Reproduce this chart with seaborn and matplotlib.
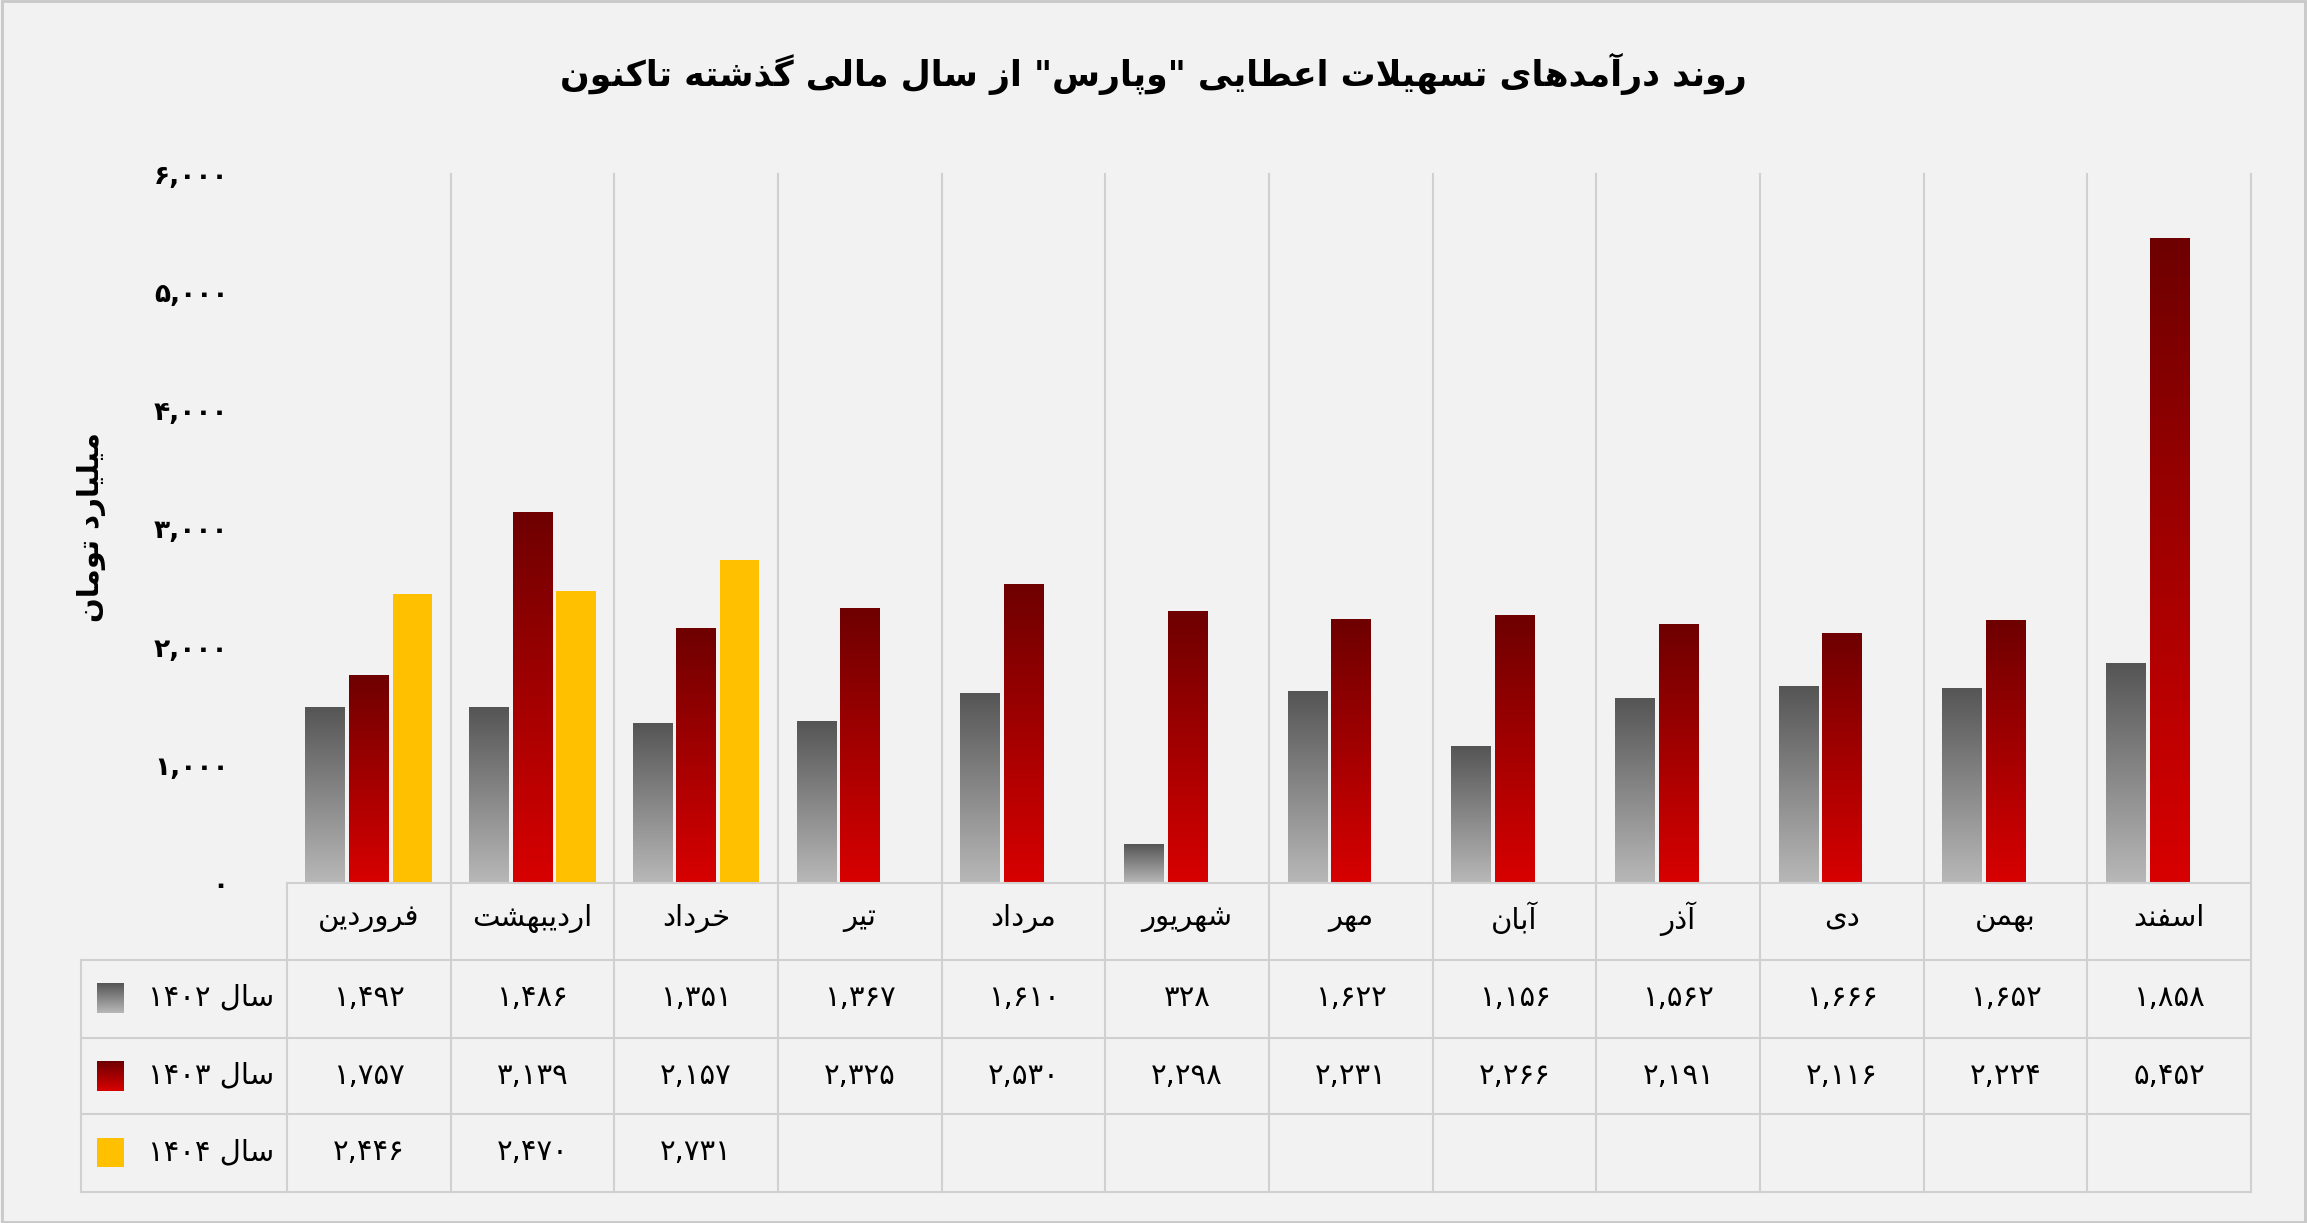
import numpy as np, pandas as pd, matplotlib
matplotlib.use("Agg")
import matplotlib.pyplot as plt
import seaborn as sns
from matplotlib.colors import LinearSegmentedColormap

months = ["فروردین","اردیبهشت","خرداد","تیر","مرداد","شهریور","مهر","آبان","آذر","دی","بهمن","اسفند"]
v1402 = [1492,1486,1351,1367,1610,328,1622,1156,1562,1666,1652,1858]
v1403 = [1757,3139,2157,2325,2530,2298,2231,2266,2191,2116,2224,5452]
v1404 = [2446,2470,2731]+[np.nan]*9
series = ["سال ۱۴۰۲","سال ۱۴۰۳","سال ۱۴۰۴"]
yticks = [0,1000,2000,3000,4000,5000,6000]

# ---- minimal Persian shaping ----
F = {'ا':(0xFE8D,0xFE8E,None,None),'آ':(0xFE81,0xFE82,None,None),'ب':(0xFE8F,0xFE90,0xFE91,0xFE92),
'ت':(0xFE95,0xFE96,0xFE97,0xFE98),'ث':(0xFE99,0xFE9A,0xFE9B,0xFE9C),'ج':(0xFE9D,0xFE9E,0xFE9F,0xFEA0),
'ح':(0xFEA1,0xFEA2,0xFEA3,0xFEA4),'خ':(0xFEA5,0xFEA6,0xFEA7,0xFEA8),'د':(0xFEA9,0xFEAA,None,None),
'ذ':(0xFEAB,0xFEAC,None,None),'ر':(0xFEAD,0xFEAE,None,None),'ز':(0xFEAF,0xFEB0,None,None),
'ژ':(0xFB8A,0xFB8B,None,None),'س':(0xFEB1,0xFEB2,0xFEB3,0xFEB4),'ش':(0xFEB5,0xFEB6,0xFEB7,0xFEB8),
'ص':(0xFEB9,0xFEBA,0xFEBB,0xFEBC),'ض':(0xFEBD,0xFEBE,0xFEBF,0xFEC0),'ط':(0xFEC1,0xFEC2,0xFEC3,0xFEC4),
'ظ':(0xFEC5,0xFEC6,0xFEC7,0xFEC8),'ع':(0xFEC9,0xFECA,0xFECB,0xFECC),'غ':(0xFECD,0xFECE,0xFECF,0xFED0),
'ف':(0xFED1,0xFED2,0xFED3,0xFED4),'ق':(0xFED5,0xFED6,0xFED7,0xFED8),'ل':(0xFEDD,0xFEDE,0xFEDF,0xFEE0),
'م':(0xFEE1,0xFEE2,0xFEE3,0xFEE4),'ن':(0xFEE5,0xFEE6,0xFEE7,0xFEE8),'ه':(0xFEE9,0xFEEA,0xFEEB,0xFEEC),
'و':(0xFEED,0xFEEE,None,None),'پ':(0xFB56,0xFB57,0xFB58,0xFB59),'چ':(0xFB7A,0xFB7B,0xFB7C,0xFB7D),
'ک':(0xFB8E,0xFB8F,0xFB90,0xFB91),'گ':(0xFB92,0xFB93,0xFB94,0xFB95),'ی':(0xFBFC,0xFBFD,0xFBFE,0xFBFF)}
def shape(s):
    s = s.replace('لا','\uFEFB').replace('لآ','\uFEF5')
    out=[]
    for i,c in enumerate(s):
        if c in ('\uFEFB','\uFEF5'):
            p = s[i-1] if i>0 else ''
            jp = p in F and F[p][2] is not None
            out.append(chr(ord(c)+1) if jp else c); continue
        if c not in F: out.append(c); continue
        p = s[i-1] if i>0 else ''; n = s[i+1] if i+1<len(s) else ''
        jp = p in F and F[p][2] is not None
        jn = F[c][2] is not None and (n in F or n in ('\uFEFB','\uFEF5'))
        iso,fin,ini,med = F[c]
        out.append(chr(med if jp and jn else fin if jp else ini if jn else iso))
    r = ''.join(out)[::-1]
    res=[];buf=''
    for ch in r:
        if ch.isdigit() or (ch==',' and buf): buf+=ch
        else:
            if buf: res.append(buf[::-1]); buf=''
            res.append(ch)
    if buf: res.append(buf[::-1])
    return ''.join(res)
def fa(n):
    s = f"{int(n):,}"
    return s.translate(str.maketrans("0123456789","۰۱۲۳۴۵۶۷۸۹"))

plt.rcParams['font.family']='DejaVu Sans'
W,H=2307,1223
fig = plt.figure(figsize=(W/100,H/100),dpi=100,facecolor='#f2f2f2')
L,R = 195/1568, 1530/1568
B,T = 1-600/831, 1-118/831
ax = fig.add_axes([L,B,R-L,T-B]); ax.set_facecolor('#f2f2f2')
df = pd.DataFrame({'m':months*3,'v':v1402+v1403+v1404,'s':sum([[x]*12 for x in series],[])})
sns.barplot(data=df,x='m',y='v',hue='s',order=months,hue_order=series,width=0.8,gap=0.1,ax=ax,legend=False,palette=['#888','#a00','#ffc000'])
cm_g = LinearSegmentedColormap.from_list('g',['#b8b8b8','#555555'])
cm_r = LinearSegmentedColormap.from_list('r',['#d80000','#6e0000'])
grad = np.linspace(0,1,256).reshape(-1,1)
for i,p in enumerate(ax.patches):
    k = i//12
    if k==2 or not np.isfinite(p.get_height()) or p.get_height()==0:
        if k==2: p.set_facecolor('#ffc000'); p.set_edgecolor('none')
        continue
    x0,w,h = p.get_x(),p.get_width(),p.get_height()
    im = ax.imshow(grad,cmap=cm_g if k==0 else cm_r,origin='lower',extent=[x0,x0+w,0,h],aspect='auto',zorder=3)
    im.set_clip_path(p); p.set_alpha(0)
ax.set_xlim(-0.5,11.5); ax.set_ylim(0,6000)
for s in ax.spines.values(): s.set_visible(False)
ax.set_xticks([]); ax.set_xlabel(''); ax.set_ylabel('')
ax.set_yticks(yticks); ax.set_yticklabels([fa(t) for t in yticks],fontsize=19,fontweight='bold')
ax.tick_params(axis='y',length=0,pad=42)

def fy(y): return 1-y/831
def fx(x): return x/1568
lc='#d0d0d0'
cw=(R-L)/12
for i in range(13):
    x=L+i*cw
    fig.add_artist(plt.Line2D([x,x],[fy(118) if i>0 else fy(600),fy(810)],color=lc,lw=1.5))
fig.add_artist(plt.Line2D([fx(55),fx(55)],[fy(652),fy(810)],color=lc,lw=1.5))
fig.add_artist(plt.Line2D([L,R],[fy(600),fy(600)],color=lc,lw=1.5))
for y in (652,705,757,810):
    fig.add_artist(plt.Line2D([fx(55),R],[fy(y),fy(y)],color=lc,lw=1.5))
for i,m in enumerate(months):
    fig.text(L+(i+0.5)*cw,fy(624),shape(m),ha='center',va='center',fontsize=21)
rows=[v1402,v1403,v1404]; ys=[678,731,783]
for r,vals in enumerate(rows):
    for i,v in enumerate(vals):
        if np.isfinite(v):
            fig.text(L+(i+0.5)*cw,fy(ys[r]),fa(v),ha='center',va='center',fontsize=21)
    fig.text(fx(186),fy(ys[r]),shape(series[r]),ha='right',va='center',fontsize=21)
    kax = fig.add_axes([fx(66),fy(ys[r]+10),fx(18),(20/831)])
    kax.axis('off')
    if r==2: kax.add_patch(plt.Rectangle((0,0),1,1,color='#ffc000'))
    else: kax.imshow(grad,cmap=cm_g if r==0 else cm_r,origin='lower',extent=[0,1,0,1],aspect='auto')
    kax.set_xlim(0,1); kax.set_ylim(0,1)
fig.text(0.5,fy(50),shape('روند درآمدهای تسهیلات اعطایی "وپارس" از سال مالی گذشته تاکنون'),ha='center',va='center',fontsize=25,fontweight='bold')
fig.text(fx(62),fy(358),shape('میلیارد تومان'),rotation=90,ha='center',va='center',fontsize=21,fontweight='bold')
fig.add_artist(plt.Rectangle((0.001,0.001),0.998,0.998,fill=False,ec='#c8c8c8',lw=2))
fig.savefig('out.png',dpi=100,facecolor=fig.get_facecolor())
